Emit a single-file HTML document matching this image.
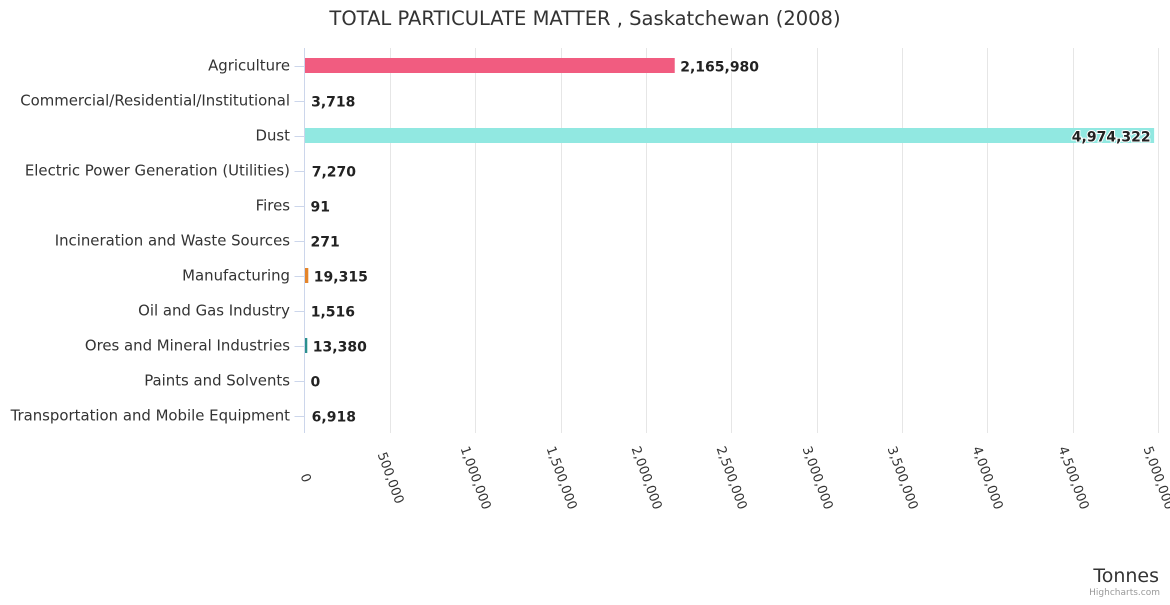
<!DOCTYPE html>
<html><head><meta charset="utf-8"><style>
body{margin:0;background:#fff;font-family:"Liberation Sans","DejaVu Sans",sans-serif}
svg text{font-family:"DejaVu Sans","Liberation Sans",sans-serif}
</style></head><body>
<svg id="c" width="1170" height="600" xmlns="http://www.w3.org/2000/svg">
<text x="585" y="25" text-anchor="middle" font-size="19.5" fill="#333">TOTAL PARTICULATE MATTER , Saskatchewan (2008)</text>
<text x="1159" y="582" text-anchor="end" font-size="19" fill="#333">Tonnes</text>
<text x="1160" y="595" text-anchor="end" font-size="9" fill="#999">Highcharts.com</text>
<g id="grid"></g><g id="bars"></g><g id="labels"></g>
</svg>
<script>
const categories=["Agriculture","Commercial/Residential/Institutional","Dust","Electric Power Generation (Utilities)","Fires","Incineration and Waste Sources","Manufacturing","Oil and Gas Industry","Ores and Mineral Industries","Paints and Solvents","Transportation and Mobile Equipment"];
const values=[2165980,3718,4974322,7270,91,271,19315,1516,13380,0,6918];
const colors=["#f15c80","#e4d354","#91e8e1","#7cb5ec","#434348","#90ed7d","#e4852b","#8085e9","#2b908f","#f45b5b","#7cb5ec"];
const ticks=[0,500000,1000000,1500000,2000000,2500000,3000000,3500000,4000000,4500000,5000000];
const NS="http://www.w3.org/2000/svg";
const X0=304.5,X1=1158,T=48,B=433,MAX=5000000;
const x=v=>X0+(X1-X0)*v/MAX;
const step=(B-T)/categories.length;
const yc=i=>T+step*(i+0.5);
function mk(t,a,p){const e=document.createElementNS(NS,t);for(const k in a)e.setAttribute(k,a[k]);p.appendChild(e);return e;}
const g=document.getElementById('grid'),bg=document.getElementById('bars'),lg=document.getElementById('labels');
ticks.forEach(t=>{
  const gx=Math.round(x(t))+0.5;
  if(t>0){const l=mk('line',{x1:gx,x2:gx,y1:T,y2:B,stroke:'#e6e6e6'},g);
  
  }
  const cy=478;
  const tx=mk('text',{x:gx,y:cy+4,'text-anchor':'middle','font-size':13,fill:'#333',transform:`rotate(70 ${gx} ${cy})`},lg);
  tx.textContent=t.toLocaleString('en-US');
  
  
});
const ax=mk('line',{x1:X0,x2:X0,y1:T,y2:B,stroke:'#ccd6eb'},g);


categories.forEach((c,i)=>{
  const y=yc(i);
  const tk=mk('line',{x1:X0-10,x2:X0,y1:Math.round(y)+0.5,y2:Math.round(y)+0.5,stroke:'#ccd6eb'},g);
  
  
  const cl=mk('text',{x:290,y:y+5,'text-anchor':'end','font-size':14.9,fill:'#333'},lg);
  cl.textContent=c;
  
  
  const w=x(values[i])-X0;
  if(w>=1.5){const r=mk('rect',{x:X0+0.5,y:y-7.5,width:w,height:15,fill:colors[i]},bg);
  
  }
  const inside=w>800;
  const vl=mk('text',{x:inside?X0+w-3:X0+w+6,y:y+6,'text-anchor':inside?'end':'start','font-size':14,'font-weight':'bold',fill:'#222',stroke:'#fff','stroke-width':2,'paint-order':'stroke'},lg);
  vl.textContent=values[i].toLocaleString('en-US');
  
  
});
</script>
</body></html>
